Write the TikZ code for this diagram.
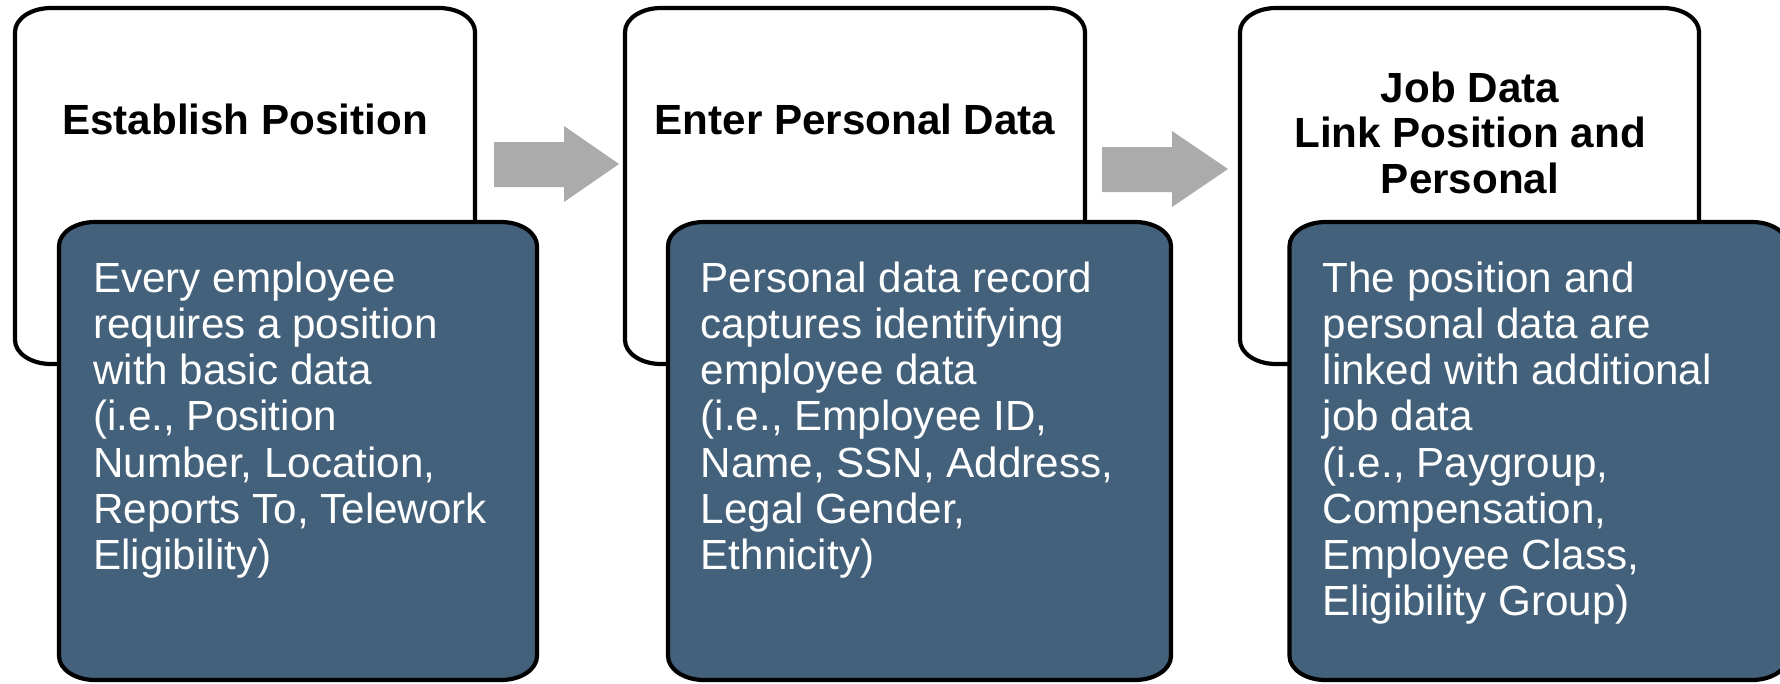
\documentclass[tikz,border=0pt]{standalone}
\usepackage{fontspec}
\setmainfont{Liberation Sans}
\usetikzlibrary{calc}

\definecolor{cardblue}{HTML}{43617B}
\definecolor{flowgray}{HTML}{ABABAB}

\tikzset{
  % rounded outline with elliptical corners (36 x 24) around a named frame node
  softrect/.style={insert path={
    ($(#1.north west)+(36,0)$) -- ($(#1.north east)+(-36,0)$)
    .. controls +(19.9,0) and +(0,-13.3) .. ($(#1.north east)+(0,24)$)
    -- ($(#1.south east)+(0,-24)$)
    .. controls +(0,13.3) and +(19.9,0) .. ($(#1.south east)+(-36,0)$)
    -- ($(#1.south west)+(36,0)$)
    .. controls +(-19.9,0) and +(0,13.3) .. ($(#1.south west)+(0,-24)$)
    -- ($(#1.north west)+(0,24)$)
    .. controls +(0,-13.3) and +(-19.9,0) .. ($(#1.north west)+(36,0)$)
    -- cycle}},
  frame/.style={rectangle, draw=none, inner sep=0pt, outer sep=0pt},
  stagecard/.style={draw=black, fill=white, line width=0.42mm},
  detailcard/.style={draw=black, fill=cardblue, line width=0.42mm},
  stagetitle/.style={inner sep=0pt, align=center,
    font=\fontsize{12}{12.9}\selectfont\bfseries},
  detailtext/.style={inner sep=0pt, align=left, text=white,
    font=\fontsize{12}{13.15}\selectfont},
  flowarrow/.style={fill=flowgray, draw=none},
}

\begin{document}
\begin{tikzpicture}[x=0.1mm, y=-0.1mm]
\useasboundingbox (0,0) rectangle (1780,683);
\clip (0,0) rectangle (1780,683);

% frames of the stage cards and detail cards
\node[frame, minimum width=46mm,   minimum height=35.6mm] (s1) at (245,186) {};
\node[frame, minimum width=46mm,   minimum height=35.6mm] (s2) at (855,186) {};
\node[frame, minimum width=45.9mm, minimum height=35.6mm] (s3) at (1469.5,186) {};
\node[frame, minimum width=47.8mm,  minimum height=45.8mm] (d1) at (298,451) {};
\node[frame, minimum width=50.3mm,  minimum height=45.8mm] (d2) at (919.5,451) {};
\node[frame, minimum width=49.85mm, minimum height=45.8mm] (d3) at (1538.75,451) {};

% block arrows between the stages
\fill[flowarrow] (494,142) -- (564,142) -- (564,126) -- (619,164)
  -- (564,202) -- (564,187) -- (494,187) -- cycle;
\fill[flowarrow] (1102,147) -- (1172,147) -- (1172,131) -- (1228,169)
  -- (1172,207) -- (1172,192) -- (1102,192) -- cycle;

% cards: white stage card first, detail card on top of it
\draw[stagecard, softrect=s1];
\draw[detailcard, softrect=d1];
\draw[stagecard, softrect=s2];
\draw[detailcard, softrect=d2];
\draw[stagecard, softrect=s3];
\draw[detailcard, softrect=d3];

% stage titles (base anchor sits on the last line)
\node[stagetitle, anchor=base] (t1) at (245,134) {Establish Position};
\node[stagetitle, anchor=base] (t2) at (855,134) {Enter Personal Data};
\node[stagetitle, anchor=base] (t3) at (1470,193.2)
  {Job Data\\Link Position and\\Personal};

% detail texts (base anchor sits on the last line)
\node[detailtext, anchor=base west] (x1) at (92.5,569.5)
  {Every employee\\requires a position\\with basic data\\(i.e., Position\\Number, Location,\\Reports To, Telework\\Eligibility)};
\node[detailtext, anchor=base west] (x2) at (700,569.5)
  {Personal data record\\captures identifying\\employee data\\(i.e., Employee ID,\\Name, SSN, Address,\\Legal Gender,\\Ethnicity)};
\node[detailtext, anchor=base west] (x3) at (1322,615.8)
  {The position and\\personal data are\\linked with additional\\job data\\(i.e., Paygroup,\\Compensation,\\Employee Class,\\Eligibility Group)};
\end{tikzpicture}
\end{document}
